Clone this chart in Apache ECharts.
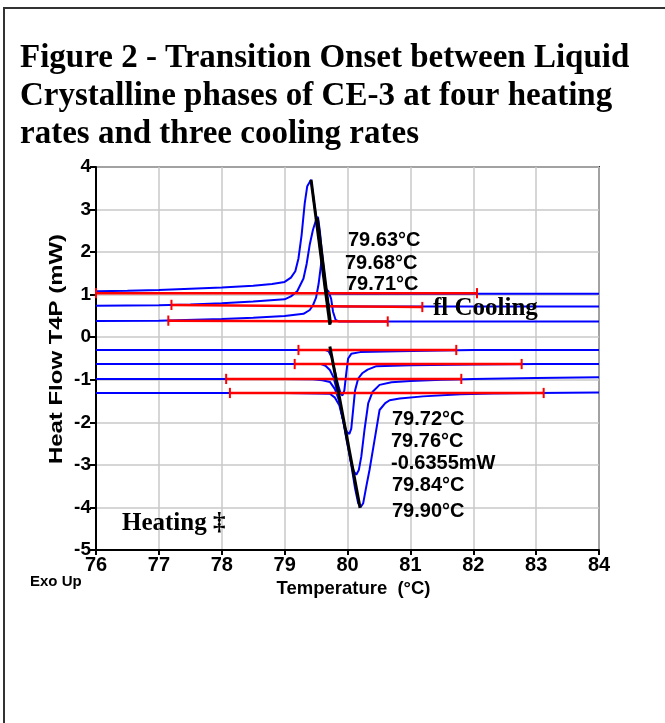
<!DOCTYPE html>
<html>
<head>
<meta charset="utf-8">
<script src="https://cdn.jsdelivr.net/npm/echarts@6/dist/echarts.min.js"></script>
<style>
html,body{margin:0;padding:0;background:#fff;}
#chart{width:665px;height:723px;}
</style>
</head>
<body>
<div id="chart"></div>
<script>
// ---- Data ----
const xTicks = [76, 77, 78, 79, 80, 81, 82, 83, 84];
const yTicks = [-5, -4, -3, -2, -1, 0, 1, 2, 3, 4];

// Cooling curves (exotherm up): [temperature °C, heat flow mW]
const coolA = [[76,1.08],[76.5,1.09],[77,1.11],[77.5,1.14],[78,1.17],[78.5,1.21],[78.8,1.25],[79.0,1.30],[79.1,1.40],[79.17,1.55],[79.22,1.85],[79.27,2.40],[79.32,3.15],[79.36,3.55],[79.42,3.70],[79.46,3.25],[79.52,2.60],[79.57,2.00],[79.62,1.45],[79.65,1.10],[79.67,1.03],[80,1.02],[81,1.02],[82,1.02],[83,1.02],[84,1.02]];
const coolB = [[76,0.74],[77,0.75],[77.5,0.77],[78,0.80],[78.5,0.84],[79.0,0.89],[79.1,0.96],[79.2,1.08],[79.3,1.38],[79.35,1.72],[79.4,2.18],[79.45,2.52],[79.5,2.76],[79.53,2.83],[79.56,2.50],[79.59,2.05],[79.63,1.50],[79.66,1.10],[79.69,0.80],[79.72,0.73],[80,0.72],[81,0.72],[82,0.72],[83,0.72],[84,0.72]];
const coolC = [[76,0.38],[77,0.39],[78,0.43],[78.5,0.46],[79.0,0.50],[79.3,0.55],[79.4,0.64],[79.45,0.75],[79.5,0.93],[79.54,1.25],[79.57,1.60],[79.59,1.85],[79.61,1.70],[79.635,1.35],[79.65,1.15],[79.70,1.07],[79.74,0.90],[79.77,0.60],[79.81,0.41],[79.86,0.37],[80.2,0.37],[81,0.37],[82,0.37],[83,0.37],[84,0.37]];

// Heating curves (endotherm down)
const heat1 = [[76,-0.30],[77,-0.30],[78,-0.30],[79,-0.30],[79.65,-0.30],[79.70,-0.33],[79.75,-0.48],[79.80,-0.80],[79.85,-1.12],[79.89,-1.32],[79.92,-1.37],[79.95,-1.25],[79.98,-0.85],[80.01,-0.50],[80.06,-0.39],[80.2,-0.35],[80.8,-0.33],[81.5,-0.31],[82,-0.30],[83,-0.30],[84,-0.30]];
const heat2 = [[76,-0.63],[77,-0.63],[78,-0.63],[79,-0.63],[79.58,-0.63],[79.65,-0.67],[79.72,-0.77],[79.78,-0.95],[79.84,-1.30],[79.90,-1.75],[79.95,-2.08],[79.99,-2.23],[80.03,-2.27],[80.06,-2.15],[80.09,-1.70],[80.12,-1.25],[80.17,-0.97],[80.24,-0.84],[80.32,-0.76],[80.46,-0.68],[81,-0.66],[82,-0.64],[83,-0.63],[84,-0.63]];
const heat3 = [[76,-0.98],[77,-0.98],[78,-0.98],[79,-0.98],[79.45,-0.99],[79.6,-1.01],[79.72,-1.05],[79.80,-1.22],[79.87,-1.50],[79.93,-1.95],[79.99,-2.45],[80.05,-2.90],[80.10,-3.15],[80.14,-3.23],[80.18,-3.12],[80.22,-2.80],[80.27,-2.18],[80.33,-1.55],[80.40,-1.28],[80.51,-1.12],[80.7,-1.06],[81,-1.03],[81.5,-1.00],[82,-0.98],[83,-0.96],[84,-0.94]];
const heat4 = [[76,-1.31],[77,-1.31],[78,-1.31],[79,-1.31],[79.5,-1.32],[79.72,-1.33],[79.80,-1.42],[79.87,-1.60],[79.93,-1.95],[80.00,-2.45],[80.06,-3.00],[80.12,-3.55],[80.17,-3.90],[80.21,-3.99],[80.25,-3.90],[80.30,-3.50],[80.35,-3.12],[80.43,-2.42],[80.51,-1.71],[80.60,-1.55],[80.67,-1.48],[80.83,-1.44],[81.2,-1.39],[81.8,-1.34],[82.3,-1.32],[83,-1.31],[84,-1.30]];

// Red baselines (start, end)
const coolBaseA = [[76.00,1.035],[82.06,1.035]];
const coolBaseB = [[77.20,0.76],[81.19,0.71]];
const coolBaseC = [[77.15,0.39],[80.64,0.37]];
const heatBase1 = [[79.22,-0.30],[81.73,-0.30]];
const heatBase2 = [[79.16,-0.63],[82.77,-0.63]];
const heatBase3 = [[78.07,-0.98],[81.81,-0.98]];
const heatBase4 = [[78.13,-1.31],[83.12,-1.31]];

// Black onset tangents
const coolTangent1 = [[79.42,3.70],[79.72,0.29]];
const coolTangent2 = [[79.52,2.80],[79.73,0.32]];
const heatTangent = [[79.72,-0.22],[80.20,-4.01]];

// Annotation texts
const coolOnsets = ['79.63°C', '79.68°C', '79.71°C'];
const heatOnsets = ['79.72°C', '79.76°C', '-0.6355mW', '79.84°C', '79.90°C'];
const titleLines = ['Figure 2 - Transition Onset between Liquid', 'Crystalline phases of CE-3 at four heating', 'rates and three cooling rates'];

// ---- Chart ----
const chart = echarts.init(document.getElementById('chart'), null, {renderer: 'canvas'});
const SANS = 'Liberation Sans, Arial, sans-serif';
const SERIF = 'Liberation Serif, Times New Roman, serif';
const BLUE = '#0000ff', RED = '#ff0000';

function lineSeries(data, color, width, z) {
  return {type: 'line', data: data, symbol: 'none', showSymbol: false, silent: true,
    lineStyle: {color: color, width: width}, z: z, animation: false};
}
const series = [];
[coolA, coolB, coolC, heat1, heat2, heat3, heat4].forEach(d => series.push(lineSeries(d, BLUE, 2, 2)));
const bases = [coolBaseA, coolBaseB, coolBaseC, heatBase1, heatBase2, heatBase3, heatBase4];
bases.forEach(b => {
  series.push(lineSeries(b, RED, 2.5, 3));
  b.forEach(p => series.push(lineSeries([[p[0], p[1] - 0.12], [p[0], p[1] + 0.12]], RED, 2, 3)));
});
[coolTangent1, coolTangent2, heatTangent].forEach(t => series.push(lineSeries(t, '#000', 3, 4)));

const graphics = [];
graphics.push({type: 'rect', z: 100, shape: {x: 4, y: 8, width: 700, height: 800}, style: {fill: 'none', stroke: '#333', lineWidth: 2}, silent: true});
const titleY = [58, 96, 134];
titleLines.forEach((t, i) => graphics.push({type: 'text', z: 100, x: 20, y: titleY[i],
  style: {text: t, font: 'bold 33px ' + SERIF, fill: '#000', textVerticalAlign: 'middle'}}));
const coolPos = [[348, 240], [345, 263], [346, 284]];
coolOnsets.forEach((t, i) => graphics.push({type: 'text', z: 100, x: coolPos[i][0], y: coolPos[i][1],
  style: {text: t, font: 'bold 20px ' + SANS, fill: '#000', textVerticalAlign: 'middle'}}));
const heatPos = [[392, 419], [391, 441], [391, 463], [392, 485], [392, 511]];
heatOnsets.forEach((t, i) => graphics.push({type: 'text', z: 100, x: heatPos[i][0], y: heatPos[i][1],
  style: {text: t, font: 'bold 20px ' + SANS, fill: '#000', textVerticalAlign: 'middle'}}));
graphics.push({type: 'text', z: 100, x: 433, y: 309, style: {text: 'fl Cooling', font: 'bold 25px ' + SERIF, fill: '#000', textVerticalAlign: 'middle'}});
graphics.push({type: 'text', z: 100, x: 122, y: 524, style: {text: 'Heating ‡', font: 'bold 25px ' + SERIF, fill: '#000', textVerticalAlign: 'middle'}});
graphics.push({type: 'text', z: 100, x: 30, y: 582, style: {text: 'Exo Up', font: 'bold 15px ' + SANS, fill: '#000', textVerticalAlign: 'middle'}});
graphics.push({type: 'text', z: 100, x: 57, y: 349, rotation: Math.PI / 2, scaleX: 1.26,
  style: {text: 'Heat Flow T4P (mW)', font: 'bold 19px ' + SANS, fill: '#000', textAlign: 'center', textVerticalAlign: 'middle'}});

const option = {
  animation: false,
  backgroundColor: '#fff',
  grid: {left: 96, right: 66, top: 167, bottom: 173, show: true, borderColor: '#333', borderWidth: 2, containLabel: false},
  xAxis: {
    type: 'value', min: xTicks[0], max: xTicks[xTicks.length - 1], interval: 1,
    axisLine: {show: true, onZero: false, lineStyle: {color: '#000', width: 2}},
    axisTick: {show: true, length: 5, lineStyle: {color: '#000', width: 2}},
    axisLabel: {color: '#000', fontWeight: 'bold', fontSize: 20, fontFamily: SANS, margin: 5},
    splitLine: {show: true, lineStyle: {color: '#c8c8c8', width: 1.5}},
    name: 'Temperature  (°C)', nameLocation: 'middle', nameGap: 24,
    nameTextStyle: {color: '#000', fontWeight: 'bold', fontSize: 18.5, fontFamily: SANS, padding: [0, 0, 0, 12]}
  },
  yAxis: {
    type: 'value', min: yTicks[0], max: yTicks[yTicks.length - 1], interval: 1,
    axisLine: {show: true, onZero: false, lineStyle: {color: '#000', width: 2}},
    axisTick: {show: true, length: 6, lineStyle: {color: '#000', width: 2}},
    axisLabel: {color: '#000', fontWeight: 'bold', fontSize: 19, fontFamily: SANS, margin: 5},
    splitLine: {show: true, lineStyle: {color: '#c8c8c8', width: 1.5}}
  },
  series: series,
  graphic: graphics
};
chart.setOption(option);
</script>
</body>
</html>
